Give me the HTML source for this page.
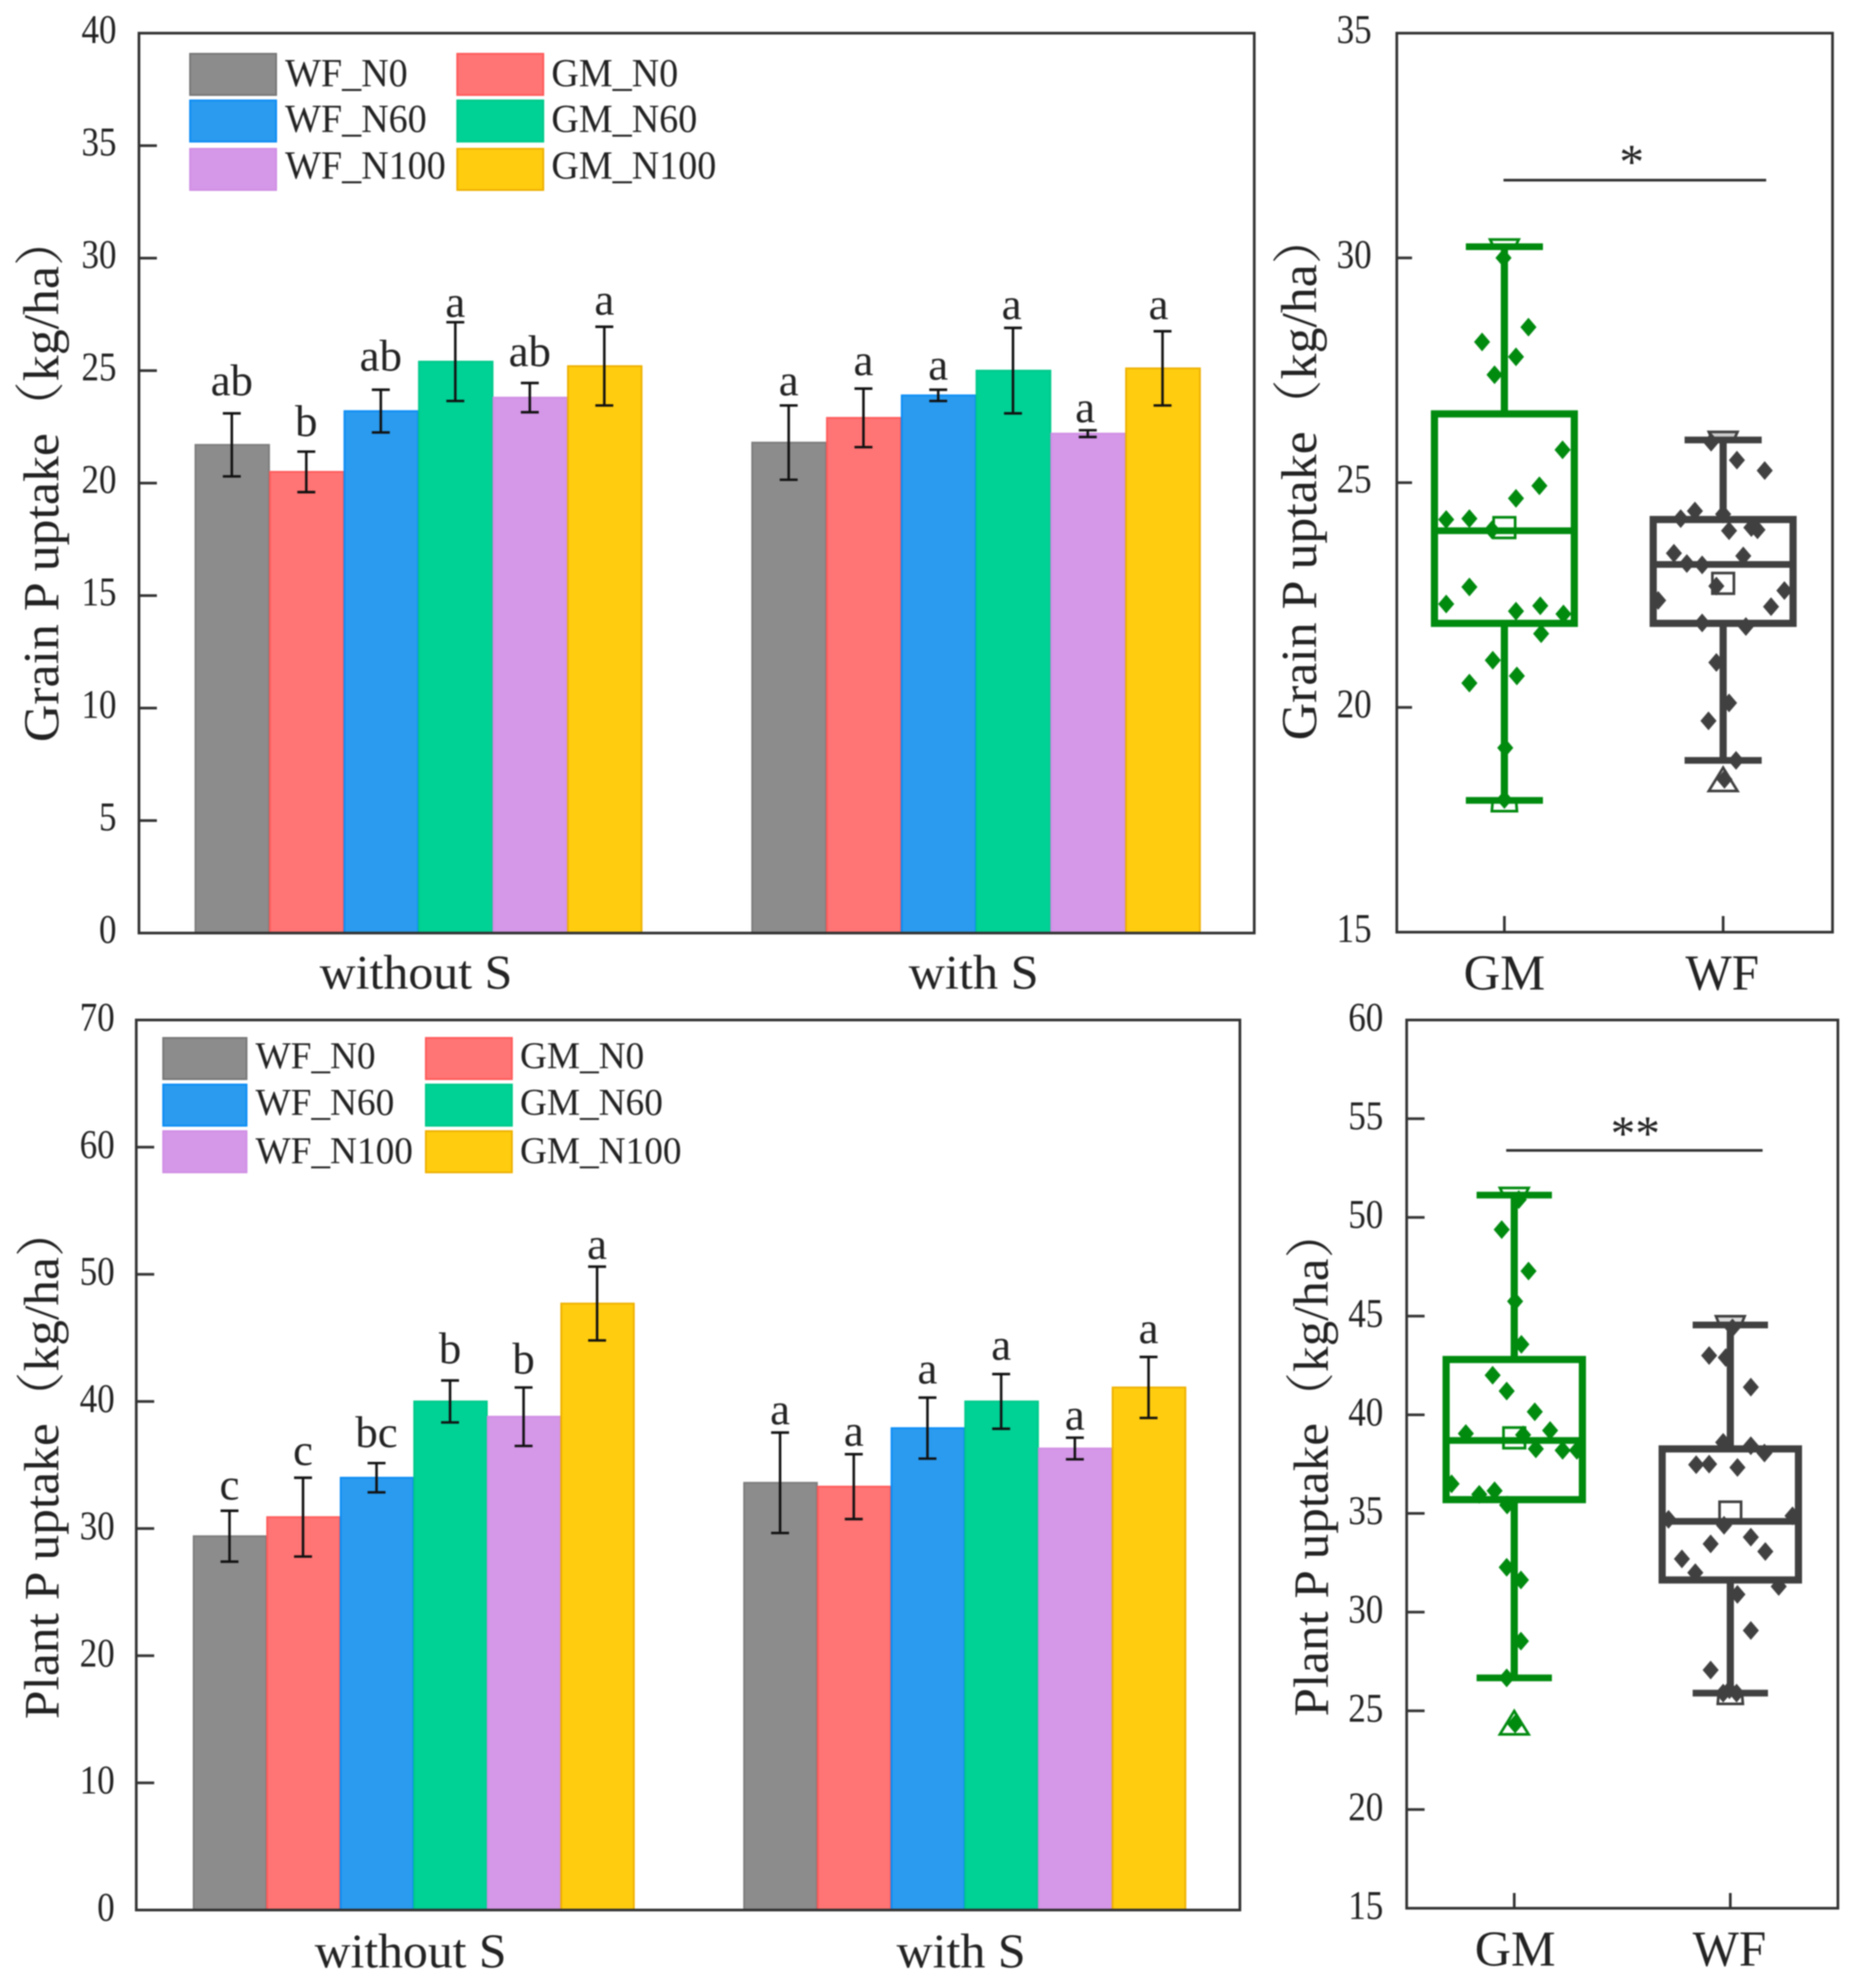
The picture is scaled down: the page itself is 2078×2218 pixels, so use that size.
<!DOCTYPE html>
<html lang="en">
<head>
<meta charset="utf-8">
<title>Grain and plant P uptake</title>
<style>
html,body{margin:0;padding:0;background:#fff;}
#figure{display:block;width:2078px;height:2218px;filter:blur(0.7px);}
text{font-family:"Liberation Serif","Noto Serif CJK SC",serif;fill:#222;}
</style>
</head>
<body>
<svg id="figure" xmlns="http://www.w3.org/2000/svg" width="2078" height="2218" viewBox="0 0 2078 2218">
  <rect x="0" y="0" width="2078" height="2218" fill="#fff"/>

  <!-- Panel A -->
  <g id="marks-a"></g>
  <rect x="155" y="37" width="1244" height="1004" fill="none" stroke="#333" stroke-width="3"/>
  <text transform="translate(65,828) rotate(-90)" font-size="56" textLength="589" lengthAdjust="spacingAndGlyphs">Grain P uptake（kg/ha）</text>
  <text x="464" y="1103" font-size="54" text-anchor="middle" textLength="215" lengthAdjust="spacingAndGlyphs">without S</text>
  <text x="1086" y="1103" font-size="54" text-anchor="middle" textLength="145" lengthAdjust="spacingAndGlyphs">with S</text>
  <g>
    <g><rect x="212" y="60" width="96" height="46" fill="#8c8c8c" stroke="#777" stroke-width="2"/><text transform="translate(318,96) scale(.965,1)" font-size="44">WF_N0</text></g>
    <g><rect x="212" y="112" width="96" height="46" fill="#2a9bef" stroke="#0a8cf5" stroke-width="2"/><text transform="translate(318,147) scale(.965,1)" font-size="44">WF_N60</text></g>
    <g><rect x="212" y="166" width="96" height="46" fill="#d597e8" stroke="#d08fe4" stroke-width="2"/><text transform="translate(318,199) scale(.965,1)" font-size="44">WF_N100</text></g>
    <g><rect x="510" y="60" width="96" height="46" fill="#ff7474" stroke="#ff5a5a" stroke-width="2"/><text transform="translate(615,96) scale(.965,1)" font-size="44">GM_N0</text></g>
    <g><rect x="510" y="112" width="96" height="46" fill="#00d195" stroke="#00c98a" stroke-width="2"/><text transform="translate(615,147) scale(.965,1)" font-size="44">GM_N60</text></g>
    <g><rect x="510" y="166" width="96" height="46" fill="#ffcc0f" stroke="#eeb000" stroke-width="2"/><text transform="translate(615,199) scale(.965,1)" font-size="44">GM_N100</text></g>
  </g>

  <!-- Panel B -->
  <g id="marks-b"></g>
  <rect x="1558" y="37" width="486" height="1003" fill="none" stroke="#333" stroke-width="3"/>
  <text transform="translate(1468,826) rotate(-90)" font-size="56" textLength="589" lengthAdjust="spacingAndGlyphs">Grain P uptake（kg/ha）</text>
  <text x="1678" y="1104" font-size="56" text-anchor="middle" textLength="91" lengthAdjust="spacingAndGlyphs">GM</text>
  <text x="1921" y="1104" font-size="56" text-anchor="middle" textLength="82" lengthAdjust="spacingAndGlyphs">WF</text>
  <line x1="1677" y1="201" x2="1970" y2="201" stroke="#333" stroke-width="3"/>
  <text x="1820" y="199" font-size="55" text-anchor="middle">*</text>

  <!-- Panel D -->
  <g id="marks-d"></g>
  <rect x="152" y="1138" width="1231" height="993" fill="none" stroke="#333" stroke-width="3"/>
  <text transform="translate(65,1918) rotate(-90)" font-size="55" textLength="573" lengthAdjust="spacingAndGlyphs">Plant P uptake（kg/ha）</text>
  <text x="458" y="2195" font-size="54" text-anchor="middle" textLength="214" lengthAdjust="spacingAndGlyphs">without S</text>
  <text x="1072" y="2195" font-size="54" text-anchor="middle" textLength="144" lengthAdjust="spacingAndGlyphs">with S</text>
  <g>
    <g><rect x="182" y="1158" width="93" height="46" fill="#8c8c8c" stroke="#777" stroke-width="2"/><text transform="translate(285,1192) scale(.99,1)" font-size="42">WF_N0</text></g>
    <g><rect x="182" y="1210" width="93" height="46" fill="#2a9bef" stroke="#0a8cf5" stroke-width="2"/><text transform="translate(285,1244) scale(.99,1)" font-size="42">WF_N60</text></g>
    <g><rect x="182" y="1262" width="93" height="46" fill="#d597e8" stroke="#d08fe4" stroke-width="2"/><text transform="translate(285,1298) scale(.99,1)" font-size="42">WF_N100</text></g>
    <g><rect x="475" y="1158" width="96" height="46" fill="#ff7474" stroke="#ff5a5a" stroke-width="2"/><text transform="translate(580,1192) scale(.99,1)" font-size="42">GM_N0</text></g>
    <g><rect x="475" y="1210" width="96" height="46" fill="#00d195" stroke="#00c98a" stroke-width="2"/><text transform="translate(580,1244) scale(.99,1)" font-size="42">GM_N60</text></g>
    <g><rect x="475" y="1262" width="96" height="46" fill="#ffcc0f" stroke="#eeb000" stroke-width="2"/><text transform="translate(580,1298) scale(.99,1)" font-size="42">GM_N100</text></g>
  </g>

  <!-- Panel E -->
  <g id="marks-e"></g>
  <rect x="1569" y="1138" width="481" height="991" fill="none" stroke="#333" stroke-width="3"/>
  <text transform="translate(1481,1915) rotate(-90)" font-size="55" textLength="568" lengthAdjust="spacingAndGlyphs">Plant P uptake（kg/ha）</text>
  <text x="1690" y="2193" font-size="56" text-anchor="middle" textLength="90" lengthAdjust="spacingAndGlyphs">GM</text>
  <text x="1929" y="2193" font-size="56" text-anchor="middle" textLength="82" lengthAdjust="spacingAndGlyphs">WF</text>
  <line x1="1680" y1="1283.5" x2="1966" y2="1283.5" stroke="#333" stroke-width="3"/>
  <text x="1824" y="1283" font-size="55" text-anchor="middle">**</text>
</svg>

<script>
// ---------- Panel A data: grain P uptake bars ----------
const treatments = ['WF_N0', 'GM_N0', 'WF_N60', 'GM_N60', 'WF_N100', 'GM_N100'];
const grainBarTicks = ['0', '5', '10', '15', '20', '25', '30', '35', '40'];
const grainWithoutS = [21.7, 20.5, 23.2, 25.4, 23.8, 25.2];
const grainWithS = [21.8, 22.9, 23.9, 25.0, 22.2, 25.1];
const grainWithoutSErr = [1.4, 0.9, 0.95, 1.75, 0.65, 1.75];
const grainWithSErr = [1.65, 1.3, 0.25, 1.9, 0.15, 1.65];
const grainWithoutSLetters = ['ab', 'b', 'ab', 'a', 'ab', 'a'];
const grainWithSLetters = ['a', 'a', 'a', 'a', 'a', 'a'];
const grainWithoutSLetterAt = [23.9, 22.1, 25.0, 27.4, 25.2, 27.5];
const grainWithSLetterAt = [23.9, 24.8, 24.6, 27.3, 22.7, 27.3];

// ---------- Panel D data: plant P uptake bars ----------
const plantBarTicks = ['0', '10', '20', '30', '40', '50', '60', '70'];
const plantWithoutS = [29.4, 30.9, 34.0, 40.0, 38.8, 47.7];
const plantWithS = [33.6, 33.3, 37.9, 40.0, 36.3, 41.1];
const plantWithoutSErr = [2.0, 3.1, 1.15, 1.65, 2.3, 2.9];
const plantWithSErr = [3.95, 2.55, 2.4, 2.15, 0.85, 2.4];
const plantWithoutSLetters = ['c', 'c', 'bc', 'b', 'b', 'a'];
const plantWithSLetters = ['a', 'a', 'a', 'a', 'a', 'a'];
const plantWithoutSLetterAt = [32.3, 35.0, 36.4, 43.0, 42.2, 51.2];
const plantWithSLetterAt = [38.2, 36.5, 41.4, 43.3, 37.8, 44.6];

// ---------- Panel B data: grain P uptake boxes ----------
const grainBoxTicks = ['15', '20', '25', '30', '35'];
const grainGmStats = {q1: 21.87, median: 23.93, q3: 26.53, low: 17.93, high: 30.25, mean: 24.0, markMin: 17.9, markMax: 30.15};
const grainWfStats = {q1: 21.87, median: 23.18, q3: 24.18, low: 18.82, high: 25.95, mean: 22.76, markMin: 18.4, markMax: 25.87};
const grainGmValues = [30.0, 28.46, 28.13, 27.8, 27.4, 25.73, 24.93, 24.65, 24.18, 24.2, 23.95, 22.68, 22.3, 22.14, 22.26, 22.08, 21.64, 21.05, 20.7, 20.54, 19.1, 17.95];
const grainGmJitter = [-.004, .11, -.102, .053, -.045, .266, .16, .053, -.266, -.16, -.057, -.16, -.266, .053, .164, .27, .168, -.053, .057, -.16, .004, 0];
const grainWfValues = [25.9, 25.5, 25.27, 24.37, 24.2, 24.3, 23.93, 24.0, 23.95, 23.43, 23.37, 23.2, 23.17, 22.7, 22.6, 22.38, 22.24, 21.88, 21.8, 21.0, 20.1, 19.7, 18.82, 18.4];
const grainWfJitter = [-.055, .063, .19, -.129, -.194, 0, .027, .129, .157, -.225, .092, -.166, -.096, -.031, .28, -.297, .219, -.096, .104, -.031, .027, -.067, .059, .006];

// ---------- Panel E data: plant P uptake boxes ----------
const plantBoxTicks = ['15', '20', '25', '30', '35', '40', '45', '50', '55', '60'];
const plantGmStats = {q1: 35.7, median: 38.7, q3: 42.8, low: 26.67, high: 51.13, mean: 38.83, markMin: 24.4, markMax: 50.9};
const plantWfStats = {q1: 31.63, median: 34.6, q3: 38.27, low: 25.9, high: 44.55, mean: 35.07, markMin: 26.0, markMax: 44.4};
const plantGmValues = [50.9, 49.38, 47.28, 45.75, 43.57, 42.0, 41.2, 40.15, 39.05, 39.2, 38.98, 38.27, 38.2, 38.2, 36.5, 35.97, 36.15, 35.43, 32.27, 31.63, 28.53, 26.67, 24.33];
const plantGmJitter = [.021, -.058, .066, .004, .033, -.1, -.035, .095, -.224, .166, .041, .1, .224, .29, -.29, -.162, -.091, -.033, -.035, .031, .031, -.035, .004];
const plantWfValues = [44.4, 43.0, 42.9, 41.4, 38.6, 38.43, 38.06, 37.47, 37.5, 37.33, 34.7, 34.88, 34.4, 33.8, 33.46, 33.07, 32.7, 32.0, 31.3, 30.9, 29.07, 27.07, 26.07, 25.9, 25.9];
const plantWfJitter = [.01, -.098, -.021, .095, -.033, .095, .158, -.158, -.098, .033, -.286, .288, -.029, .095, -.091, .162, -.224, -.162, .224, .033, .095, -.091, -.004, -.033, .029];

// ---------- Styling (separate from data) ----------
const barFills = ['#8c8c8c', '#ff7474', '#2a9bef', '#00d195', '#d597e8', '#ffcc0f'];
const barEdges = ['#7c7c7c', '#ff5a5a', '#0a8cf5', '#00c98a', '#d08fe4', '#eeb000'];
const SVGNS = 'http://www.w3.org/2000/svg';

function make(parent, tag, attrs, text) {
  const el = document.createElementNS(SVGNS, tag);
  for (const k in attrs) el.setAttribute(k, attrs[k]);
  if (text !== undefined) el.textContent = text;
  parent.appendChild(el);
  return el;
}
function linear(d0, d1, r0, r1) {
  return function (v) { return r0 + (v - d0) * (r1 - r0) / (d1 - d0); };
}

function drawYTicks(group, ticks, y, axisX, labelX, tickLen, baselineShift) {
  ticks.forEach(function (t, i) {
    const py = y(parseFloat(t));
    if (i !== 0 && i !== ticks.length - 1) {
      const tick = make(group, 'line', {x1: axisX, y1: py, x2: axisX + tickLen, y2: py, stroke: '#333', 'stroke-width': 3});
      
      
    }
    const lab = make(group, 'text', {transform: 'translate(' + labelX + ',' + (py + baselineShift) + ') scale(.87,1)', 'font-size': 45, 'text-anchor': 'end'}, t);
    
    
  });
}

function drawBarGroup(group, start, bw, y, values, errs, letters, letterAt, groupName, letterNudge) {
  const base = y(0);
  values.forEach(function (v, i) {
    const left = start + i * bw;
    const bar = make(group, 'rect', {x: left + 1, y: y(v), width: bw - 1, height: base - y(v), fill: barFills[i], stroke: barEdges[i], 'stroke-width': 2});
    
    
    bar.setAttribute('data-group', groupName);
    bar.setAttribute('data-series', treatments[i]);
  });
  values.forEach(function (v, i) {
    const cx = start + (i + 0.5) * bw;
    const hi = y(v + errs[i]);
    const lo = y(v - errs[i]);
    const eb = make(group, 'path', {d: 'M' + cx + ' ' + hi + 'V' + lo + 'M' + (cx - 10) + ' ' + hi + 'H' + (cx + 10) + 'M' + (cx - 10) + ' ' + lo + 'H' + (cx + 10), stroke: '#111', 'stroke-width': 2.8, fill: 'none'});
    
    
    const lt = make(group, 'text', {x: cx + (letterNudge ? letterNudge * Math.max(0, i - 2) : 0), y: y(letterAt[i]), 'font-size': 50, 'text-anchor': 'middle'}, letters[i]);
    
    
  });
}

function drawBox(group, x, y, cat, stats, values, jitter, color, topFill, halfW, capHalf, name) {
  const cx = x(cat);
  const yMin = y(stats.markMin);
  const yMax = y(stats.markMax);
  const yLow = y(stats.low);
  const yHigh = y(stats.high);
  // An outlier below the whisker shows a full triangle; otherwise only the sliver beyond the cap shows.
  const minPath = (yMin - yLow) > 8
    ? 'M' + cx + ' ' + (yMin - 13) + 'L' + (cx + 16) + ' ' + (yMin + 13) + 'H' + (cx - 16) + 'Z'
    : 'M' + (cx - 13) + ' ' + yLow + 'H' + (cx + 13) + 'L' + (cx + 14) + ' ' + (yLow + 12) + 'H' + (cx - 14) + 'Z';
  const triUp = make(group, 'path', {d: minPath, fill: 'none', stroke: color, 'stroke-width': 3});
  
  
  const triDown = make(group, 'path', {d: 'M' + (cx - 16) + ' ' + (yMax - 13) + 'H' + (cx + 16) + 'L' + (cx + 12) + ' ' + yHigh + 'H' + (cx - 12) + 'Z', fill: topFill, stroke: color, 'stroke-width': 3});
  
  

  const whisker = make(group, 'path', {d: 'M' + cx + ' ' + yHigh + 'V' + y(stats.q3) + 'M' + cx + ' ' + y(stats.q1) + 'V' + yLow, stroke: color, 'stroke-width': 8, fill: 'none'});
  
  
  const caps = make(group, 'path', {d: 'M' + (cx - capHalf) + ' ' + yHigh + 'H' + (cx + capHalf) + 'M' + (cx - capHalf) + ' ' + yLow + 'H' + (cx + capHalf), stroke: color, 'stroke-width': 7.5, fill: 'none'});
  
  
  const box = make(group, 'rect', {x: cx - halfW, y: y(stats.q3), width: 2 * halfW, height: y(stats.q1) - y(stats.q3), fill: 'none', stroke: color, 'stroke-width': 8});
  
  
  const med = make(group, 'line', {x1: cx - halfW, x2: cx + halfW, y1: y(stats.median), y2: y(stats.median), stroke: color, 'stroke-width': 7.5});
  
  

  values.forEach(function (v, i) {
    const px = x(cat + jitter[i]);
    const py = y(v);
    const d = make(group, 'path', {d: 'M' + px + ' ' + (py - 10.5) + 'L' + (px + 9) + ' ' + py + 'L' + px + ' ' + (py + 10.5) + 'L' + (px - 9) + ' ' + py + 'Z', fill: color});
    
    
  });

  const mean = make(group, 'rect', {x: cx - 12, y: y(stats.mean) - 11.5, width: 24, height: 23, fill: 'none', stroke: color, 'stroke-width': 3});
  
  
}

function drawXTicks(group, x, cats, yBase, len) {
  cats.forEach(function (c) {
    const t = make(group, 'line', {x1: x(c), x2: x(c), y1: yBase, y2: yBase - len, stroke: '#333', 'stroke-width': 3});
    
    
  });
}

// Panel A
(function () {
  const g = document.getElementById('marks-a');
  const y = linear(0, 40, 1041, 37);
  drawBarGroup(g, 217, 83.1, y, grainWithoutS, grainWithoutSErr, grainWithoutSLetters, grainWithoutSLetterAt, 'without S', 0);
  drawBarGroup(g, 838, 83.4, y, grainWithS, grainWithSErr, grainWithSLetters, grainWithSLetterAt, 'with S', -1.5);
  drawYTicks(g, grainBarTicks, y, 155, 130, 20, 11);
})();

// Panel D
(function () {
  const g = document.getElementById('marks-d');
  const y = linear(0, 70, 2131, 1138);
  drawBarGroup(g, 215, 82, y, plantWithoutS, plantWithoutSErr, plantWithoutSLetters, plantWithoutSLetterAt, 'without S', 0);
  drawBarGroup(g, 829, 82.2, y, plantWithS, plantWithSErr, plantWithSLetters, plantWithSLetterAt, 'with S', 0);
  drawYTicks(g, plantBarTicks, y, 152, 128, 20, 12);
})();

// Panel B
(function () {
  const g = document.getElementById('marks-b');
  const y = linear(15, 35, 1040, 37);
  const x = linear(0, 1, 1678, 1922);
  drawXTicks(g, x, [0, 1], 1040, 18);
  drawBox(g, x, y, 0, grainGmStats, grainGmValues, grainGmJitter, '#008a0e', '#fff', 78, 43, 'gm');
  drawBox(g, x, y, 1, grainWfStats, grainWfValues, grainWfJitter, '#404040', '#ccc', 78, 43, 'wf');
  drawYTicks(g, grainBoxTicks, y, 1558, 1530, 17, 11);
})();

// Panel E
(function () {
  const g = document.getElementById('marks-e');
  const y = linear(15, 60, 2129, 1138);
  const x = linear(0, 1, 1689, 1930);
  drawXTicks(g, x, [0, 1], 2129, 17);
  drawBox(g, x, y, 0, plantGmStats, plantGmValues, plantGmJitter, '#008a0e', '#fff', 76, 42, 'gm');
  drawBox(g, x, y, 1, plantWfStats, plantWfValues, plantWfJitter, '#404040', '#ddd', 76, 42, 'wf');
  drawYTicks(g, plantBoxTicks, y, 1569, 1543, 20, 12);
})();
</script>
</body>
</html>
